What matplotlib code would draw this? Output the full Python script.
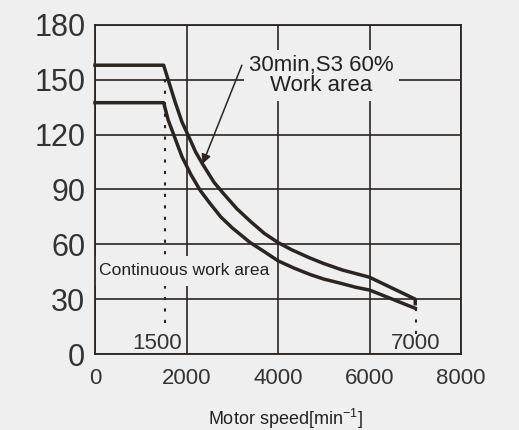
import matplotlib
matplotlib.use("Agg")
import matplotlib.pyplot as plt

# ---- data ----
upper_speed = [0, 1500, 1600, 1750, 1900, 2030, 2200, 2350, 2600, 2800, 3100,
               3400, 3700, 4000, 4300, 4700, 5000, 5400, 5700, 6000, 6500, 7000, 7000]
upper_torque = [158, 158, 150, 138, 127, 120, 110.5, 104, 94, 88, 79.5,
                72.5, 66, 61, 57, 52.5, 49.5, 46, 44, 42, 36, 30, 27.5]
lower_speed = [0, 1500, 1600, 1750, 1900, 2100, 2300, 2510, 2750, 3000, 3390,
               3700, 4000, 4350, 4700, 5000, 5400, 5700, 6000, 6500, 7000]
lower_torque = [137.5, 137.5, 128, 118, 108, 98, 89.5, 82.5, 75, 69, 61,
                56, 51, 47, 43.5, 41, 38.5, 36.5, 35, 30, 25]
x_ticks = [0, 2000, 4000, 6000, 8000]
y_ticks = [0, 30, 60, 90, 120, 150, 180]
base_speed = 1500
max_speed = 7000

BG = "#efefef"
INK = "#2b2522"

plt.rcParams["font.family"] = ["Liberation Sans", "DejaVu Sans"]
plt.rcParams["mathtext.fontset"] = "custom"
plt.rcParams["mathtext.rm"] = "Liberation Sans"
plt.rcParams["mathtext.it"] = "Liberation Sans:italic"
plt.rcParams["mathtext.bf"] = "Liberation Sans:bold"

fig = plt.figure(figsize=(5.19, 4.30), dpi=100, facecolor=BG)
ax = fig.add_axes([95/519, 1-354/430, (461-95)/519, (354-25)/430])
ax.set_facecolor(BG)

ax.set_xlim(0, 8000)
ax.set_ylim(0, 180)
ax.set_xticks(x_ticks)
ax.set_yticks(y_ticks)
ax.grid(True, color=INK, linewidth=1.2, zorder=0.5)
ax.set_axisbelow(True)
for s in ax.spines.values():
    s.set_color(INK)
    s.set_linewidth(1.3)
    s.set_zorder(2.5)
ax.tick_params(axis="both", length=0, colors="#333333")
ax.tick_params(axis="y", labelsize=22, pad=7)
ax.tick_params(axis="x", labelsize=16, pad=10)

# curves
ax.plot(upper_speed, upper_torque, color=INK, lw=2.5, solid_joinstyle="round",
        zorder=4, clip_on=False)
ax.plot(lower_speed, lower_torque, color=INK, lw=2.5, solid_joinstyle="round",
        zorder=4, clip_on=False)

# dotted markers
ax.plot([base_speed + 30, base_speed + 30], [17, 152], color=INK, lw=1.5,
        dashes=(1.5, 4), zorder=1.2)
ax.plot([max_speed + 15, max_speed + 15], [11, 25], color=INK, lw=1.5,
        dashes=(1.5, 4), zorder=1.2)

ax.text(base_speed - 150, 6, "1500", fontsize=16, color="#333333",
        ha="center", va="center")
ax.text(max_speed + 15, 6, "7000", fontsize=16, color="#333333",
        ha="center", va="center")

# annotations with background boxes
ax.text(1960, 45.5, "Continuous work area", fontsize=12.6,
        color="#222222", ha="center", va="center", zorder=1.5,
        bbox=dict(boxstyle="square,pad=0.42", fc=BG, ec="none"))
ax.text(4950, 152.5, "30min,S3 60%\nWork area", fontsize=16, color="#222222",
        ha="center", va="center", linespacing=0.95, zorder=1.5,
        bbox=dict(boxstyle="square,pad=0.22", fc=BG, ec="none"))

ax.annotate("", xy=(2350, 104), xytext=(3210, 158),
            arrowprops=dict(arrowstyle="-|>", color=INK, lw=1.1,
                            mutation_scale=14, shrinkA=0, shrinkB=0),
            zorder=5)

fig.text(285/519, 1-419/430, r"Motor speed[min$^{-1}$]", fontsize=13,
         color="#222222", ha="center", va="center")

fig.savefig("out.png", dpi=100, facecolor=BG)
